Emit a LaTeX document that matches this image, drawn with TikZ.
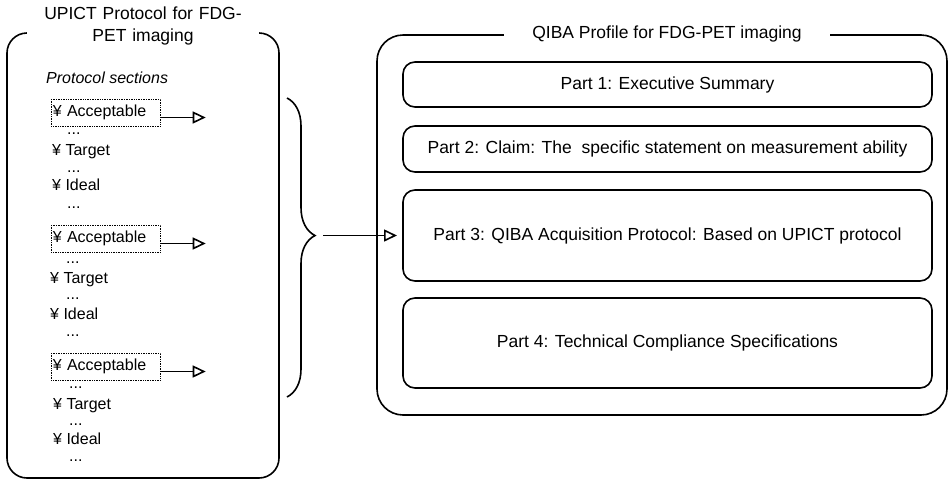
\documentclass[tikz,border=0pt]{standalone}
\usepackage{fontspec}
\setmainfont{Liberation Sans}
\usetikzlibrary{positioning}
\usetikzlibrary{arrows.meta,decorations.pathreplacing}

\newcommand\titlefont{\fontsize{17.5}{22}\selectfont}
\newcommand\itemfont{\fontsize{16}{19}\selectfont}

\begin{document}
\begin{tikzpicture}[x=1pt,y=-1pt]
\tikzset{frame/.style={draw,line width=1.6pt,inner sep=0pt},
	part/.style={draw,line width=1.6pt,rounded corners=12pt,outer sep=0pt,
		minimum width=529pt,inner sep=2pt,align=center,font=\titlefont},
	accbox/.style={draw,densely dotted,line width=0.7pt,inner xsep=1.5pt,
		inner ysep=0pt,minimum height=27pt,text width=106pt,align=left,
		anchor=west,font=\itemfont},
	item/.style={anchor=base west,inner sep=0pt,font=\itemfont},
	arr/.style={line width=1.6pt,-{Triangle[open,length=13pt,width=12pt]}}}

\useasboundingbox (0,0) rectangle (948,480);

% left box: the UPICT protocol
\node[frame,rounded corners=20pt,minimum width=272pt,minimum height=445pt] (upict) at (143,255.5) {};
\node[fill=white,inner xsep=2pt,inner ysep=1pt,text width=228pt,align=center,font=\titlefont] (upictt) at ([yshift=6pt]upict.north) {UPICT Protocol for FDG-\\PET imaging};

\node[item,font=\itemfont\itshape] (psec) at (46,83) {Protocol sections};

\node[accbox] (a1) at (51,112.5) {¥ Acceptable};
\node[item] (d11) at (67,134.5) {...};
\node[item] (t1) at (52,155.7) {¥ Target};
\node[item] (d12) at (67,172) {...};
\node[item] (i1) at (52,190.7) {¥ Ideal};
\node[item] (d13) at (67,208) {...};

\node[accbox] (a2) at (51,238.5) {¥ Acceptable};
\node[item] (d21) at (66,263) {...};
\node[item] (t2) at (50,283) {¥ Target};
\node[item] (d22) at (66,299) {...};
\node[item] (i2) at (50,319) {¥ Ideal};
\node[item] (d23) at (66,336) {...};

\node[accbox] (a3) at (51,366.5) {¥ Acceptable};
\node[item] (d31) at (69,388) {...};
\node[item] (t3) at (53,409) {¥ Target};
\node[item] (d32) at (69,425) {...};
\node[item] (i3) at (53,444) {¥ Ideal};
\node[item] (d33) at (69,461) {...};

\coordinate [right=45pt of a1.east,yshift=-5pt] (a1e);
\draw[arr] ([yshift=-5pt]a1.east) -- (a1e);

\coordinate [right=45pt of a2.east,yshift=-5pt] (a2e);
\draw[arr] ([yshift=-5pt]a2.east) -- (a2e);

\coordinate [right=45pt of a3.east,yshift=-5pt] (a3e);
\draw[arr] ([yshift=-5pt]a3.east) -- (a3e);

% right box: the QIBA profile
\node[frame,rounded corners=26pt,minimum width=570pt,minimum height=380pt] (qiba) at (662,225) {};
\node[fill=white,inner xsep=28pt,inner ysep=2pt,font=\titlefont] (qibat) at ([xshift=5pt]qiba.north) {QIBA Profile for FDG-PET imaging};

\node[part,minimum height=45pt] (p1) at (667.5,84.5) {Part 1: Executive Summary};
\node[part,minimum height=46pt,below=19pt of p1] (p2) {Part 2: Claim: The\ \ specific statement on measurement ability};
\node[part,minimum height=91pt,below=18pt of p2] (p3) {Part 3: QIBA Acquisition Protocol: Based on UPICT protocol};
\node[part,minimum height=90pt,below=17pt of p3] (p4) {Part 4: Technical Compliance Specifications};

% brace over the acceptable sections
\coordinate (bt) at (287,98);
\coordinate (bb) at (287,397);
\coordinate (btip) at (315,235.5);
\draw[line width=1.6pt,decorate,decoration={brace,amplitude=28pt,aspect=0.46}] (bt) -- (bb);
\draw[arr] ([xshift=8pt]btip) -- ([xshift=-6pt]p3.west);
\end{tikzpicture}
\end{document}
